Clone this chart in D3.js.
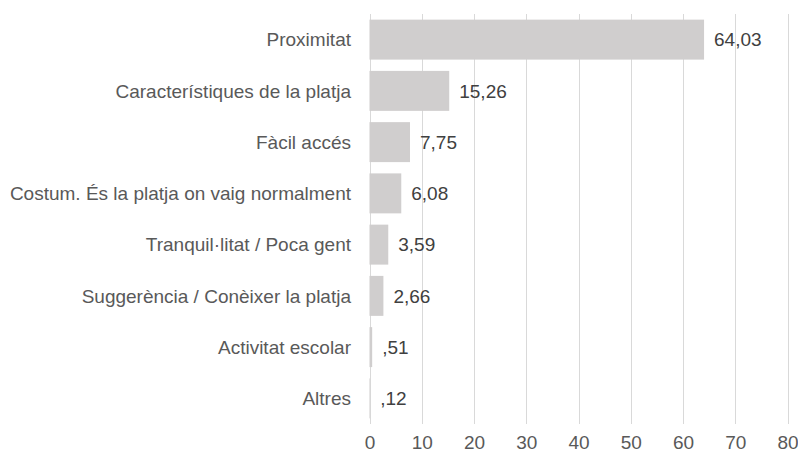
<!DOCTYPE html>
<html><head><meta charset="utf-8">
<script src="https://cdn.jsdelivr.net/npm/d3@7"></script>
<style>body{margin:0;background:#fff}svg text{font-family:"Liberation Sans",Arial,sans-serif}</style>
</head><body><svg id="c" width="798" height="453"></svg>
<script>
const categories = ["Proximitat","Característiques de la platja","Fàcil accés","Costum. És la platja on vaig normalment","Tranquil·litat / Poca gent","Suggerència / Conèixer la platja","Activitat escolar","Altres"];
const values = [64.03,15.26,7.75,6.08,3.59,2.66,0.51,0.12];
const valueLabels = ["64,03","15,26","7,75","6,08","3,59","2,66",",51",",12"];
const ticks = [0,10,20,30,40,50,60,70,80];

(function(){
const svg = d3.select("#c");
const mLeft = 369.5, mRight = 787.5, mTop = 14, mBottom = 424;
const fs = 19;
const x = d3.scaleLinear().domain([0,80]).range([mLeft,mRight]);
const y = d3.scaleBand().domain(categories).range([mTop,mBottom]).paddingInner(0.22).paddingOuter(0.11);

svg.append("g").selectAll("line").data(ticks).join("line")
  .attr("x1",d=>Math.round(x(d))+0.5).attr("x2",d=>Math.round(x(d))+0.5)
  .attr("y1",mTop).attr("y2",mBottom).attr("stroke","#d9d9d9").attr("stroke-width",1);

svg.append("g").selectAll("rect").data(values).join("rect")
  .attr("x",x(0)).attr("y",(d,i)=>y(categories[i]))
  .attr("width",d=>x(d)-x(0)).attr("height",y.bandwidth()).attr("fill","#d0cece");

svg.append("g").selectAll("text").data(valueLabels).join("text")
  .attr("x",(d,i)=>x(values[i])+10).attr("y",(d,i)=>y(categories[i])+y.bandwidth()/2)
  .attr("dy","0.35em").attr("font-size",fs).attr("fill","#404040").text(d=>d);

svg.append("g").selectAll("text").data(categories).join("text")
  .attr("x",351).attr("y",d=>y(d)+y.bandwidth()/2).attr("dy","0.35em")
  .attr("text-anchor","end").attr("font-size",fs).attr("fill","#595959").text(d=>d);

const ax = svg.append("g").attr("transform",`translate(0,${mBottom})`)
  .call(d3.axisBottom(x).tickValues(ticks).tickSize(0).tickPadding(12).tickFormat(d3.format("d")));
ax.select(".domain").remove();
ax.selectAll("text").attr("font-size",fs).attr("fill","#595959").attr("font-family","Liberation Sans, Arial, sans-serif");
})();
</script></body></html>
